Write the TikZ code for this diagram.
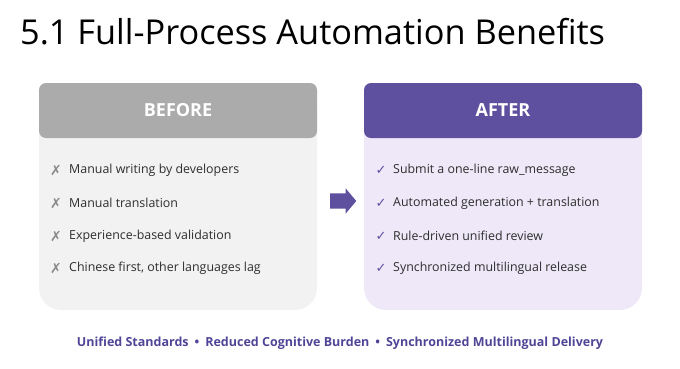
\documentclass[tikz,border=0pt]{standalone}
\usepackage{fontspec}
\setmainfont{Open Sans}
\newfontfamily\symfont{DejaVu Sans}
\usetikzlibrary{shapes.arrows}

\definecolor{hdrgray}{HTML}{ABABAB}
\definecolor{bodygray}{HTML}{F2F2F2}
\definecolor{hdrpurple}{HTML}{5E509E}
\definecolor{bodypurple}{HTML}{EEE8F8}
\definecolor{tagpurple}{HTML}{4F4596}
\definecolor{itemtext}{HTML}{2E2E2E}
\definecolor{xgray}{HTML}{8A8A8A}

\begin{document}
\begin{tikzpicture}[x=1pt, y=-1pt,
    hdrtext/.style={text=white, font=\fontsize{18}{21}\selectfont\bfseries, inner sep=0pt},
    item/.style={anchor=west, text=itemtext, font=\fontsize{12.4}{15}\selectfont, inner sep=0pt},
    xsign/.style={text=xgray, font=\symfont\fontsize{14}{16}\selectfont, inner sep=0pt},
    tick/.style={text=hdrpurple, font=\symfont\fontsize{13}{15}\selectfont, inner sep=0pt}]
    \useasboundingbox (0,0) rectangle (680,368);

    \node[anchor=base west, inner sep=0pt, font=\fontsize{34.3}{40}\selectfont] (title) at (20,44) {5.1 Full-Process Automation Benefits};

    % before card
    \fill[bodygray, rounded corners=22pt] (39,83) rectangle (317,310);
    \fill[hdrgray, rounded corners=7pt] (39,83) rectangle (317,138);
    \node[hdrtext] (before) at (178,110) {BEFORE};

    \node[xsign] (x1) at (56,170) {✗};
    \node[item] (b1) at (69,170) {Manual writing by developers};
    \node[xsign] (x2) at (56,203) {✗};
    \node[item] (b2) at (69,203) {Manual translation};
    \node[xsign] (x3) at (56,236) {✗};
    \node[item] (b3) at (69,236) {Experience-based validation};
    \node[xsign] (x4) at (56,268) {✗};
    \node[item] (b4) at (69,268) {Chinese first, other languages lag};

    % after card
    \fill[bodypurple, rounded corners=22pt] (364,83) rectangle (642,310);
    \fill[hdrpurple, rounded corners=7pt] (364,83) rectangle (642,138);
    \node[hdrtext] (after) at (503,110) {AFTER};

    \node[tick] (c1) at (381,170) {✓};
    \node[item] (a1) at (393,170) {Submit a one-line raw\_message};
    \node[tick] (c2) at (381,203) {✓};
    \node[item] (a2) at (393,203) {Automated generation + translation};
    \node[tick] (c3) at (381,236) {✓};
    \node[item] (a3) at (393,236) {Rule-driven unified review};
    \node[tick] (c4) at (381,268) {✓};
    \node[item] (a4) at (393,268) {Synchronized multilingual release};

    \node[single arrow, fill=hdrpurple, inner xsep=0pt, inner ysep=7.5pt, minimum height=26pt,
          single arrow head extend=5pt, single arrow tip angle=100] (arrow) at (340,201) {};

    \node[text=tagpurple, font=\fontsize{12.5}{15}\selectfont\bfseries, inner sep=0pt] (tagline) at (340,343)
        {Unified Standards\hspace{6pt}•\hspace{6pt}Reduced Cognitive Burden\hspace{6pt}•\hspace{6pt}Synchronized Multilingual Delivery};
\end{tikzpicture}
\end{document}
